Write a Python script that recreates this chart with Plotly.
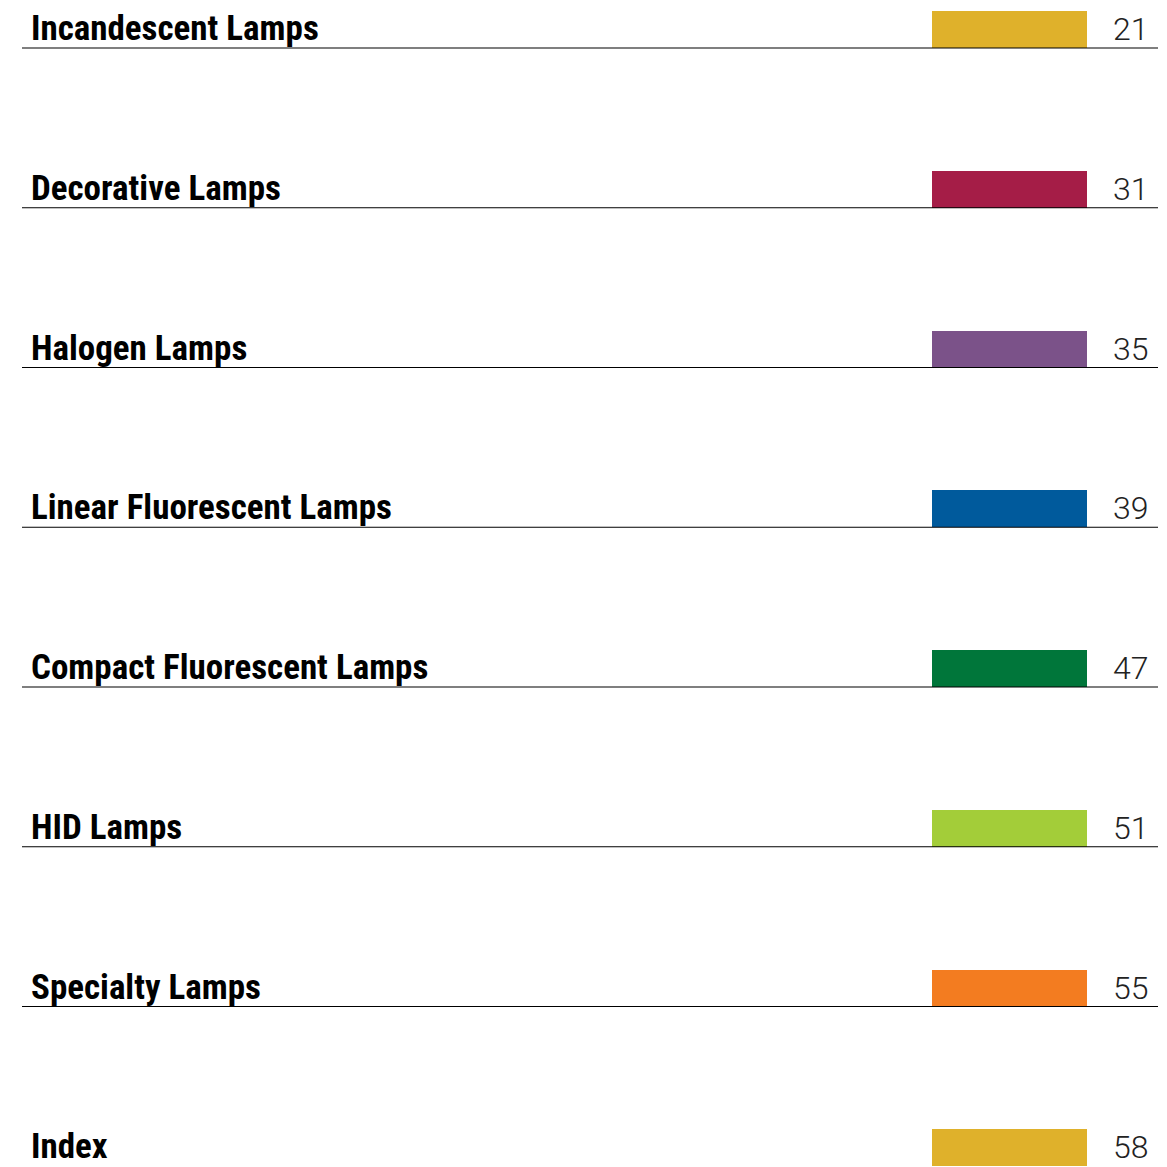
import plotly.graph_objects as go

sections = ["Incandescent Lamps", "Decorative Lamps", "Halogen Lamps", "Linear Fluorescent Lamps",
            "Compact Fluorescent Lamps", "HID Lamps", "Specialty Lamps", "Index"]
pages = [21, 31, 35, 39, 47, 51, 55, 58]
colors = ["#DFB12B", "#A51D47", "#7B5289", "#005A9C", "#00763A", "#A3CD39", "#F37C20", "#DFB12B"]

PAGE = 1167
OFF = 8  # default body margin of the html page
W = H = PAGE - OFF
row_px = 159.75
top_px = 48.0
rows = list(range(len(sections)))
y_top = (OFF - top_px) / row_px
y_bot = (PAGE - top_px) / row_px

bar_h = 37 / row_px

fig = go.Figure()
fig.add_trace(go.Bar(
    y=rows, x=[155] * len(rows), base=[932] * len(rows), orientation="h",
    marker=dict(color=colors, line=dict(width=0)),
    width=bar_h, offset=-bar_h, hoverinfo="skip", showlegend=False,
))

for i, (s, p) in enumerate(zip(sections, pages)):
    if i < len(sections) - 1:  # the last rule falls just below the page edge
        fig.add_shape(type="line", x0=22, x1=1158, y0=i, y1=i, xref="x", yref="y",
                      line=dict(color="#000000", width=1.2))
    fig.add_annotation(x=30, y=i, xref="x", yref="y", text=s, showarrow=False,
                       xanchor="left", yanchor="bottom", yshift=-2, borderpad=0,
                       font=dict(family="Liberation Sans Narrow, Roboto Condensed, Arial Narrow, sans-serif",
                                 size=35, color="#000000", weight="bold"))
    fig.add_annotation(x=1112, y=i, xref="x", yref="y", text=str(p), showarrow=False,
                       xanchor="left", yanchor="bottom", yshift=-1, borderpad=0,
                       font=dict(family="Roboto", size=32, color="#222222", weight=300))

fig.update_layout(
    width=W, height=H, margin=dict(l=0, r=0, t=0, b=0),
    paper_bgcolor="white", plot_bgcolor="white",
    xaxis=dict(range=[OFF, PAGE], visible=False, fixedrange=True),
    yaxis=dict(range=[y_bot, y_top], visible=False, fixedrange=True),
    bargap=0,
)
fig.write_html("out.html")
